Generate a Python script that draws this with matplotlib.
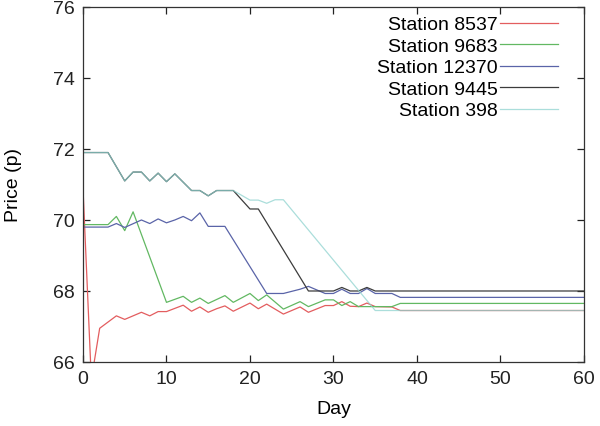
import matplotlib
matplotlib.use("Agg")
import matplotlib.pyplot as plt

plt.rcParams['font.family'] = ['Liberation Sans', 'DejaVu Sans']

# Station 8537
dias_8537 = [0, 1, 2, 4, 5, 7, 8, 9, 10, 12, 13, 14, 15, 16, 17, 18, 20, 21, 22, 24,
             26, 27, 29, 30, 31, 32, 33, 34, 35, 37, 38, 60]
precio_8537 = [70.9, 65.5, 66.95, 67.3, 67.2, 67.4, 67.3, 67.42, 67.42, 67.6, 67.43, 67.55,
               67.4, 67.5, 67.58, 67.43, 67.66, 67.5, 67.63, 67.35, 67.55, 67.4, 67.59,
               67.59, 67.7, 67.57, 67.56, 67.66, 67.56, 67.55, 67.45, 67.45]

# Station 9683
dias_9683 = [0, 3, 4, 5, 6, 10, 12, 13, 14, 15, 17, 18, 20, 21, 22, 24, 26, 27, 29, 30,
             31, 32, 33, 34, 37, 38, 60]
precio_9683 = [69.87, 69.87, 70.1, 69.7, 70.23, 67.68, 67.85, 67.68, 67.8, 67.65, 67.87,
               67.68, 67.93, 67.73, 67.89, 67.49, 67.7, 67.56, 67.75, 67.75, 67.59, 67.7,
               67.56, 67.56, 67.56, 67.65, 67.65]

# Station 12370
dias_12370 = [0, 3, 4, 5, 7, 8, 9, 10, 11, 12, 13, 14, 15, 17, 22, 24, 26, 27, 29, 30,
              31, 32, 33, 34, 35, 37, 38, 60]
precio_12370 = [69.8, 69.8, 69.9, 69.79, 70.0, 69.9, 70.03, 69.92, 70.0, 70.1, 69.98, 70.2,
                69.82, 69.82, 67.93, 67.93, 68.05, 68.13, 67.93, 67.93, 68.05, 67.93, 67.93,
                68.07, 67.93, 67.93, 67.82, 67.82]

# Station 9445
dias_9445 = [0, 3, 5, 6, 7, 8, 9, 10, 11, 13, 14, 15, 16, 18, 20, 21, 27, 30, 31, 32,
             33, 34, 35, 60]
precio_9445 = [71.9, 71.9, 71.1, 71.35, 71.35, 71.1, 71.32, 71.08, 71.3, 70.83, 70.83,
               70.68, 70.83, 70.83, 70.31, 70.31, 68.0, 68.0, 68.1, 68.0, 68.0, 68.1,
               68.0, 68.0]

# Station 398
dias_398 = [0, 3, 5, 6, 7, 8, 9, 10, 11, 13, 14, 15, 16, 18, 20, 21, 22, 23, 24, 35, 60]
precio_398 = [71.9, 71.9, 71.1, 71.35, 71.35, 71.1, 71.32, 71.08, 71.3, 70.83, 70.83,
              70.68, 70.83, 70.83, 70.56, 70.56, 70.47, 70.57, 70.57, 67.45, 67.45]

series = [
    ("Station 8537", dias_8537, precio_8537, '#e35d5f', 1.0),
    ("Station 9683", dias_9683, precio_9683, '#62b862', 1.0),
    ("Station 12370", dias_12370, precio_12370, '#5a64a8', 1.0),
    ("Station 9445", dias_9445, precio_9445, '#3c3c3c', 1.0),
    ("Station 398", dias_398, precio_398, '#8fd3cf', 0.75),
]

tam = 14

fig = plt.figure(figsize=(6, 4.27), dpi=100)
ax = fig.add_axes([0.1383, 0.1499, 0.835, 0.8314])

for nombre, x, y, color, alfa in series:
    ax.plot(x, y, color=color, lw=0.9, alpha=alfa, label=nombre)

ax.set_xlim(0, 60)
ax.set_ylim(66, 76)
ax.set_xticks(range(0, 61, 10))
ax.set_yticks(range(66, 77, 2))
ax.tick_params(direction='in', length=5, width=0.9, top=True, right=True,
               labelsize=tam, colors='#222222', pad=6)
for s in ax.spines.values():
    s.set_linewidth(0.9)
    s.set_color('#333333')

ax.set_xlabel("Day", fontsize=tam, labelpad=9)
ax.set_ylabel("Price (p)", fontsize=tam, labelpad=22)

ax.legend(loc='upper right', bbox_to_anchor=(0.948, 0.975), frameon=False,
          markerfirst=False, fontsize=tam, handlelength=3.0, handletextpad=0.1,
          labelspacing=0.2, borderpad=0, borderaxespad=0)

fig.savefig("out.png", dpi=100)
